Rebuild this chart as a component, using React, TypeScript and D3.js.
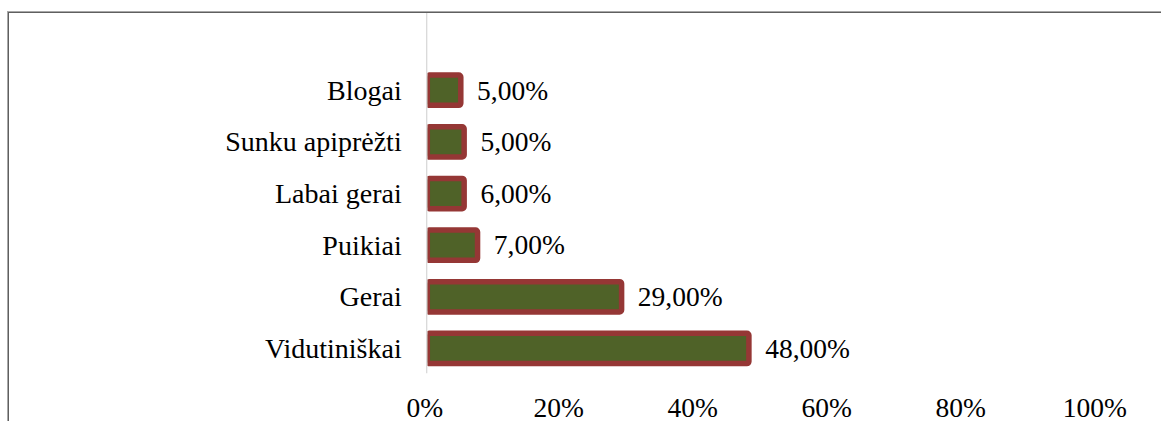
import React from "react";
import * as d3 from "d3";

const categories = ["Blogai", "Sunku apiprėžti", "Labai gerai", "Puikiai", "Gerai", "Vidutiniškai"];
const values = [5, 5.5, 5.5, 7.5, 29, 48];
const valueLabels = ["5,00%", "5,00%", "6,00%", "7,00%", "29,00%", "48,00%"];
const xTicks = [0, 20, 40, 60, 80, 100];

const W = 1161;
const H = 421;
const FONT = "'Liberation Serif', 'Times New Roman', serif";

export default function App() {
  const x = d3.scaleLinear().domain([0, 100]).range([427.3, 1097.3]);
  const y = d3
    .scaleBand<string>()
    .domain(categories)
    .range([64.4, 374.3])
    .paddingInner(0.414)
    .paddingOuter(0.207);
  const sw = 5.5;
  const x0 = x(0);

  return (
    <svg
      width={W}
      height={H}
      style={{ position: "absolute", left: 0, top: 0, display: "block", background: "#fff" }}
    >
      <defs>
        <clipPath id="plotClip">
          <rect x={x0} y={0} width={W - x0} height={H} />
        </clipPath>
      </defs>
      {/* chart border */}
      <rect x={7.5} y={11.5} width={1300} height={600} fill="none" stroke="#a8a8a8" strokeWidth={1} />
      <rect x={8.5} y={12.5} width={1300} height={600} fill="none" stroke="#5f5f5f" strokeWidth={1} />

      {/* bars */}
      <g clipPath="url(#plotClip)">
        {categories.map((c, i) => (
          <rect
            key={c}
            x={x0}
            y={(y(c) as number)}
            width={x(values[i]) - x0}
            height={y.bandwidth()}
            rx={2}
            fill="#4F6228"
            stroke="#953735"
            strokeWidth={sw}
          />
        ))}
      </g>

      {/* vertical axis line */}
      <line x1={x0 - 0.6} x2={x0 - 0.6} y1={13} y2={373.3} stroke="#d9d9d9" strokeWidth={1.3} />

      {/* category labels */}
      {categories.map((c) => (
        <text
          key={c}
          x={401.7}
          y={(y(c) as number) + y.bandwidth() / 2 + 9.5}
          textAnchor="end"
          fontFamily={FONT}
          fontSize={28}
          fill="#000"
        >
          {c}
        </text>
      ))}

      {/* value labels */}
      {categories.map((c, i) => (
        <text
          key={c + "v"}
          x={x(values[i]) + sw / 2 + 13.5}
          y={(y(c) as number) + y.bandwidth() / 2 + 9.3}
          textAnchor="start"
          fontFamily={FONT}
          fontSize={27.5}
          fill="#000"
        >
          {valueLabels[i]}
        </text>
      ))}

      {/* x tick labels */}
      {xTicks.map((t) => (
        <text
          key={t}
          x={x(t) - 2.5}
          y={416.5}
          textAnchor="middle"
          fontFamily={FONT}
          fontSize={27.5}
          fill="#000"
        >
          {t + "%"}
        </text>
      ))}
    </svg>
  );
}
